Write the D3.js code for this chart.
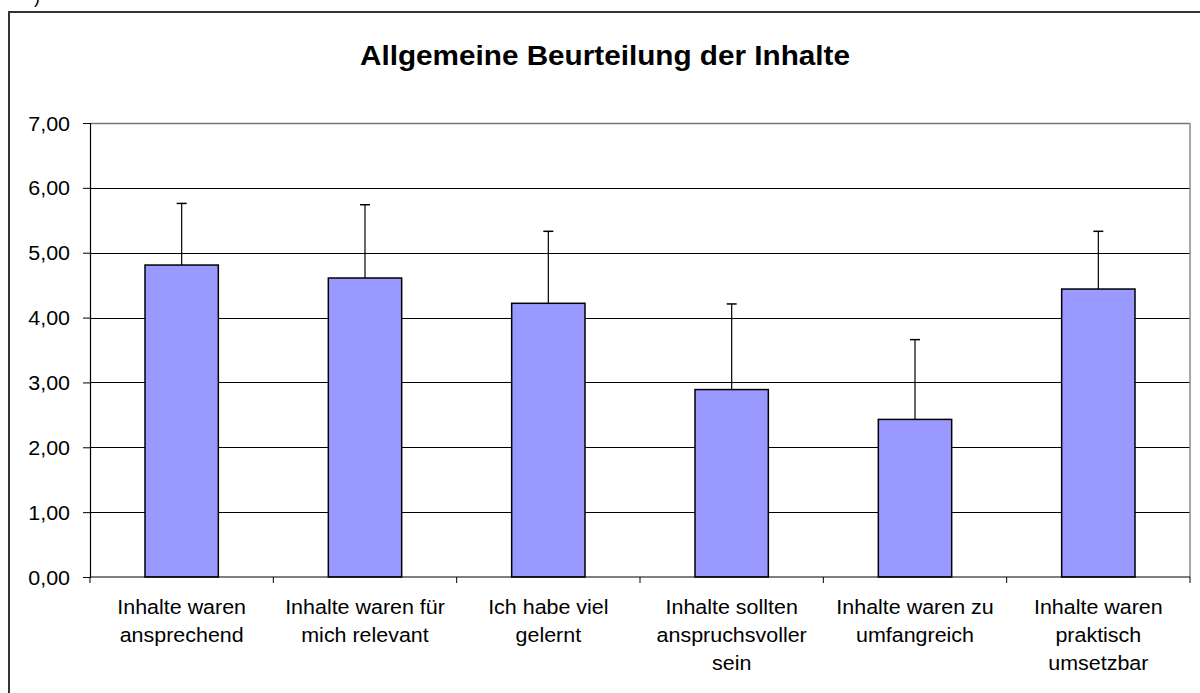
<!DOCTYPE html>
<html>
<head>
<meta charset="utf-8">
<script src="https://cdn.jsdelivr.net/npm/d3@7"></script>
<style>
  body { margin: 0; background: #fff; }
  svg { display: block; }
  text { font-family: "Liberation Sans", Arial, sans-serif; fill: #000; }
</style>
</head>
<body>
<div id="chart"></div>
<script>
const categories = [
  ["Inhalte waren", "ansprechend"],
  ["Inhalte waren für", "mich relevant"],
  ["Ich habe viel", "gelernt"],
  ["Inhalte sollten", "anspruchsvoller", "sein"],
  ["Inhalte waren zu", "umfangreich"],
  ["Inhalte waren", "praktisch", "umsetzbar"]
];
const means = [4.81, 4.61, 4.22, 2.89, 2.43, 4.44];
const errors = [0.95, 1.13, 1.11, 1.32, 1.23, 0.89];
const yTicks = [0, 1, 2, 3, 4, 5, 6, 7];
const title = "Allgemeine Beurteilung der Inhalte";

const width = 1200, height = 693;
const plot = { left: 90, right: 1190, top: 123, bottom: 577 };
const stretch = 1.1; // text is a little wider than Arial in the picture

const svg = d3.select("#chart").append("svg")
  .attr("width", width)
  .attr("height", height);

// outer chart frame
svg.append("rect")
  .attr("x", 9).attr("y", 12)
  .attr("width", 1210).attr("height", 720)
  .attr("fill", "none")
  .attr("stroke", "#333")
  .attr("stroke-width", 2);

svg.append("text")
  .attr("x", 34).attr("y", 3)
  .attr("font-size", 18)
  .attr("fill", "#555")
  .text(")");

const x = d3.scaleBand()
  .domain(d3.range(categories.length))
  .range([plot.left, plot.right])
  .paddingInner(0)
  .paddingOuter(0);

const y = d3.scaleLinear()
  .domain([0, 7])
  .range([plot.bottom, plot.top]);

// gridlines
svg.append("g")
  .selectAll("line")
  .data(yTicks.filter(d => d > 0))
  .join("line")
  .attr("x1", plot.left).attr("x2", plot.right)
  .attr("y1", d => Math.round(y(d)) + 0.5)
  .attr("y2", d => Math.round(y(d)) + 0.5)
  .attr("stroke", d => d === 7 ? "#777" : "#000")
  .attr("stroke-width", d => d === 7 ? 1.5 : 1.1);

// plot right border
svg.append("line")
  .attr("x1", plot.right).attr("x2", plot.right)
  .attr("y1", plot.top).attr("y2", plot.bottom)
  .attr("stroke", "#888")
  .attr("stroke-width", 1.5);

// error bars
const bw = x.bandwidth() * 0.4;
const err = svg.append("g").selectAll("g")
  .data(means.map((m, i) => ({ i, m, e: errors[i] })))
  .join("g");

err.append("line")
  .attr("x1", d => x(d.i) + x.bandwidth() / 2)
  .attr("x2", d => x(d.i) + x.bandwidth() / 2)
  .attr("y1", d => y(d.m))
  .attr("y2", d => y(d.m + d.e))
  .attr("stroke", "#000")
  .attr("stroke-width", 1.2);

err.append("line")
  .attr("x1", d => x(d.i) + x.bandwidth() / 2 - 5)
  .attr("x2", d => x(d.i) + x.bandwidth() / 2 + 5)
  .attr("y1", d => y(d.m + d.e))
  .attr("y2", d => y(d.m + d.e))
  .attr("stroke", "#000")
  .attr("stroke-width", 1.5);

// bars
svg.append("g").selectAll("rect")
  .data(means)
  .join("rect")
  .attr("x", (d, i) => x(i) + (x.bandwidth() - bw) / 2)
  .attr("y", d => y(d))
  .attr("width", bw)
  .attr("height", d => y(0) - y(d))
  .attr("fill", "#9999FF")
  .attr("stroke", "#000")
  .attr("stroke-width", 1.5);

// y axis
const yAxis = svg.append("g")
  .attr("transform", `translate(${plot.left},0)`)
  .call(d3.axisLeft(y)
    .tickValues(yTicks)
    .tickSize(7)
    .tickPadding(13)
    .tickFormat(d => d3.format(".2f")(d).replace(".", ",")));
yAxis.select(".domain").attr("stroke", "#000").attr("stroke-width", 1.2);
yAxis.selectAll(".tick line").attr("stroke", "#000");
yAxis.selectAll(".tick text")
  .attr("font-size", 19.5)
  .attr("font-family", "Liberation Sans, Arial, sans-serif")
  .attr("x", -20 / stretch)
  .attr("dy", "0.36em")
  .attr("transform", `scale(${stretch},1)`);

// x axis: ticks at category boundaries
const bounds = d3.range(categories.length + 1).map(i => plot.left + i * x.step());
svg.append("line")
  .attr("x1", plot.left).attr("x2", plot.right)
  .attr("y1", plot.bottom).attr("y2", plot.bottom)
  .attr("stroke", "#000").attr("stroke-width", 1.2);
svg.append("g").selectAll("line")
  .data(bounds)
  .join("line")
  .attr("x1", d => d).attr("x2", d => d)
  .attr("y1", plot.bottom).attr("y2", plot.bottom + 6)
  .attr("stroke", "#000");

// category labels
const lab = svg.append("g").selectAll("text")
  .data(categories)
  .join("text")
  .attr("text-anchor", "middle")
  .attr("font-size", 19.5)
  .attr("transform", (d, i) => `translate(${x(i) + x.bandwidth() / 2},614) scale(${stretch},1)`);
lab.selectAll("tspan")
  .data(d => d)
  .join("tspan")
  .attr("x", 0)
  .attr("y", (d, i) => i * 28)
  .text(d => d);

// title
svg.append("text")
  .attr("text-anchor", "middle")
  .attr("font-size", 27)
  .attr("font-weight", "bold")
  .attr("transform", `translate(605,65) scale(${stretch},1)`)
  .text(title);
</script>
</body>
</html>
